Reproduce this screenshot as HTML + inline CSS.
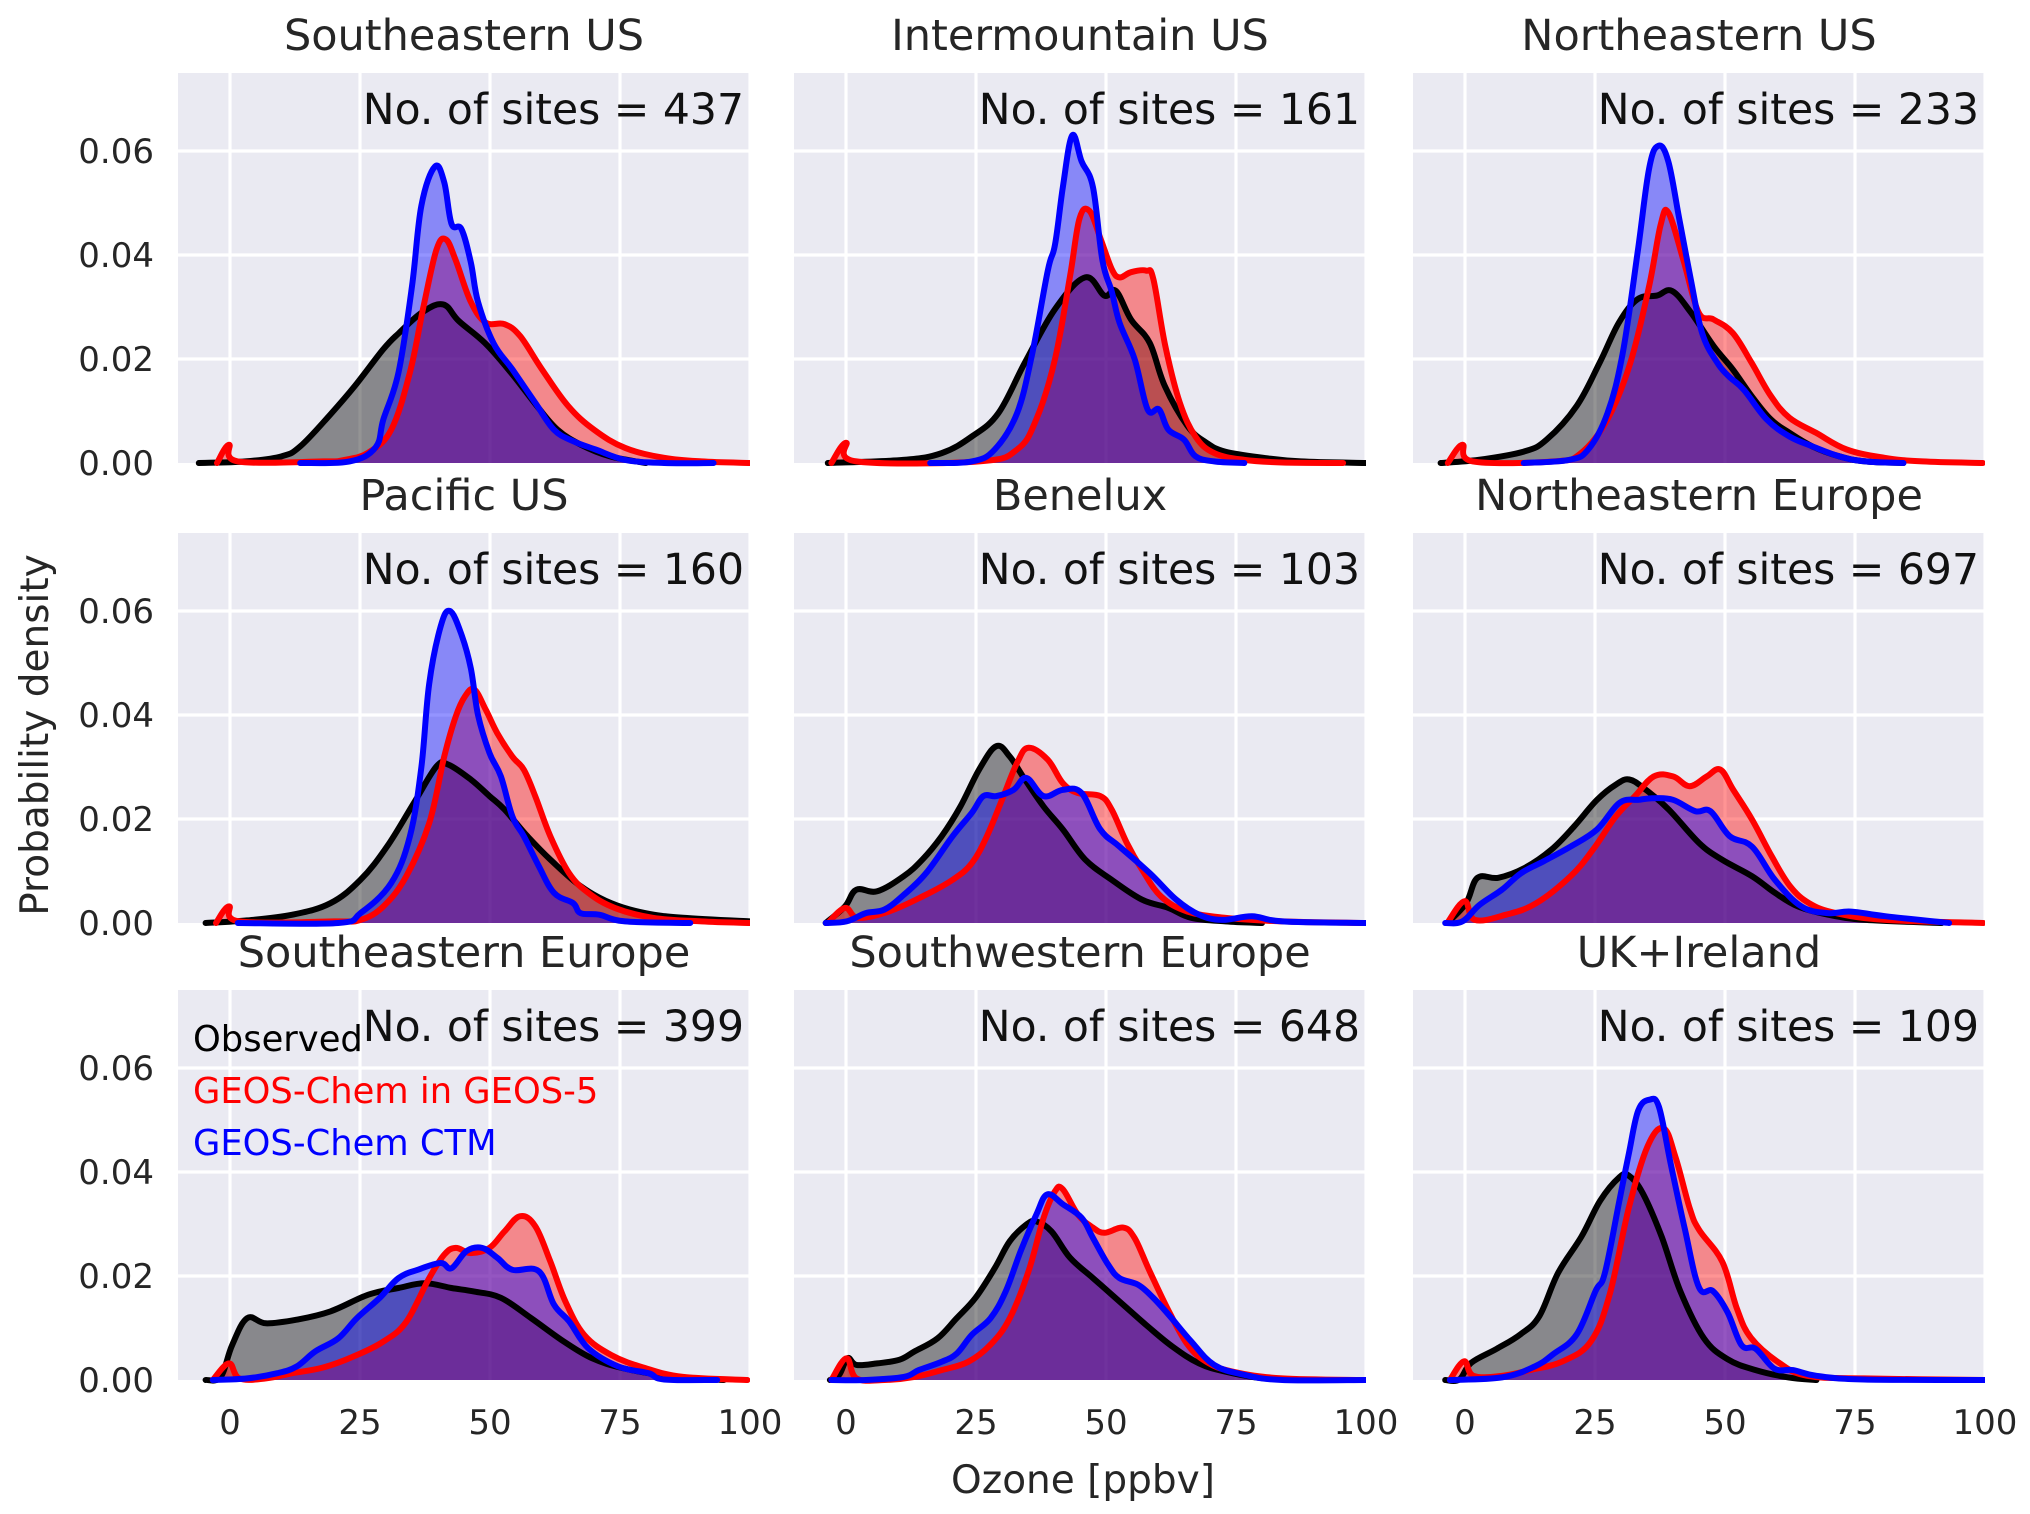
<!DOCTYPE html>
<html><head><meta charset="utf-8">
<style>
html,body{margin:0;padding:0;background:#fff;}
svg{display:block;font-family:"DejaVu Sans","Liberation Sans",sans-serif;}
</style></head>
<body>
<svg id="fig" width="2030" height="1514" viewBox="0 0 2030 1514" xmlns="http://www.w3.org/2000/svg"></svg>
<script>
// ---- data ----
const panelTitles = ["Southeastern US","Intermountain US","Northeastern US","Pacific US","Benelux","Northeastern Europe","Southeastern Europe","Southwestern Europe","UK+Ireland"];
const siteCounts = [437,161,233,160,103,697,399,648,109];
const xTicks = [0,25,50,75,100];
const yTicks = [0,0.02,0.04,0.06];
const yTickLabels = ["0.00","0.02","0.04","0.06"];

const p1ObsX=[-6,3,10,13.5,19,24,29.5,32.5,37,41,44,49,54,59,63,67.5,73,80];
const p1ObsY=[0,0.0003,0.0013,0.0032,0.009,0.0148,0.0219,0.025,0.029,0.0305,0.0273,0.0231,0.0174,0.011,0.0064,0.0035,0.0013,0];
const p1RedX=[-2.5,-0.2,1.5,18,22,26.6,31,34.6,37.2,39.7,41.5,43.4,46.3,49.2,52.8,55.8,60,65,70,76,83.5,90.7,100];
const p1RedY=[0,0.0035,0.0003,0.0003,0.0006,0.002,0.0064,0.0174,0.030,0.041,0.043,0.039,0.031,0.027,0.0267,0.0244,0.018,0.011,0.0064,0.0029,0.001,0.0003,0];
const p1BluX=[13.5,23,28,29.5,32.4,35,36.8,39.4,41.2,42.6,44.5,46.3,47.7,50.7,54.3,58.7,62.3,66,70.3,76,83.5,93];
const p1BluY=[0,0.0003,0.003,0.0084,0.0174,0.034,0.0495,0.057,0.054,0.046,0.045,0.0386,0.031,0.023,0.018,0.0116,0.0064,0.0042,0.0026,0.0006,0,0];

const p2ObsX=[-3.5,11,18.4,24.2,29.3,34.4,40.2,46,49.7,51.9,54.8,58.4,61.3,65.7,69.3,72.9,80.3,87.5,100];
const p2ObsY=[0,0.0006,0.0019,0.0051,0.0096,0.0193,0.0296,0.0357,0.0322,0.0331,0.0276,0.0231,0.0148,0.0071,0.0039,0.0022,0.001,0.0003,0];
const p2RedX=[-2.8,0,2,25.6,32.9,36.6,40.2,43.1,44.9,46.8,49,51.1,52.6,54.8,57.7,59.1,61.4,64.2,67.2,70.8,76.6,83.9,95.6];
const p2RedY=[0,0.0039,0.0003,0.0003,0.0026,0.0084,0.02,0.036,0.047,0.0485,0.043,0.0373,0.0357,0.0367,0.037,0.0354,0.0225,0.0116,0.0051,0.0019,0.0006,0.0001,0];
const p2BluX=[16.2,24.2,28.6,32.9,35.8,38.8,40.2,41.7,43.5,45.3,47.5,49.3,51.1,52.6,55.5,58,60.2,62,65,67.2,70.8,76.6];
const p2BluY=[0,0.0003,0.0026,0.0096,0.021,0.037,0.042,0.053,0.063,0.058,0.053,0.039,0.033,0.027,0.020,0.0103,0.0103,0.0064,0.0045,0.0013,0.0003,0];

const p3ObsX=[-4.7,2.6,11.3,15.7,21.5,25.9,29.6,33.2,36.9,39.8,43.4,47.8,51.5,55.1,58.8,62.4,66.8,71.9,77,84.3];
const p3ObsY=[0,0.0006,0.0022,0.0045,0.011,0.0193,0.027,0.0315,0.0322,0.0331,0.029,0.0225,0.018,0.0129,0.0084,0.0058,0.0032,0.0013,0.0003,0];
const p3RedX=[-3.3,-0.5,1.5,17.2,22.3,27.4,31.8,35.4,37.6,39.1,42,44.9,47.8,51.5,55.1,58.8,62.4,67.5,73.4,80.7,88,99.6];
const p3RedY=[0,0.0035,0.0003,0.0003,0.0019,0.0084,0.0193,0.034,0.0457,0.0482,0.039,0.029,0.0276,0.025,0.0193,0.0129,0.0087,0.0058,0.0026,0.001,0.0003,0];
const p3BluX=[11.3,20,23.7,27.4,30.3,33.2,35.4,37.2,39.1,41.2,43.4,45.6,48.5,50.7,53.6,58,62.4,66.8,71.9,77,84.3];
const p3BluY=[0,0.0006,0.0026,0.0096,0.021,0.0405,0.0566,0.061,0.058,0.047,0.0354,0.025,0.0193,0.0167,0.0141,0.0084,0.0051,0.0032,0.0013,0.0003,0];

const p4ObsX=[-4.7,3.3,12,19.3,25.1,30.2,35.3,39.7,41.9,46.3,49.9,52.8,57.2,61.6,67.4,73.3,79.8,87.1,100];
const p4ObsY=[0,0.0005,0.0016,0.0038,0.0083,0.0147,0.023,0.0301,0.0305,0.0276,0.0244,0.0218,0.0167,0.0122,0.0071,0.0038,0.0019,0.001,0.0003];
const p4RedX=[-2.7,-0.2,1.8,20,25.1,29.5,33.9,38.3,41.2,43.4,45.2,47,49.2,51.4,54.3,56.5,58.7,61.6,65.2,68.9,74,81.3,90.7,100];
const p4RedY=[0,0.0032,0.0003,0.0003,0.0006,0.0032,0.009,0.0192,0.032,0.0397,0.0436,0.0449,0.041,0.0365,0.032,0.0295,0.0244,0.0167,0.0096,0.0058,0.0029,0.001,0.0003,0];
const p4BluX=[1.5,20.8,25.1,31,34.6,36.8,38.3,40.5,42.3,44.5,46.3,47.7,49.9,52.1,54.3,56.5,59.4,62.3,66,67.4,71,76,88.5];
const p4BluY=[0,0,0.0019,0.0077,0.0167,0.030,0.046,0.057,0.060,0.0555,0.049,0.040,0.0327,0.0282,0.0205,0.0167,0.0109,0.0058,0.0038,0.0019,0.0016,0.0003,0];

const p5ObsX=[-3.9,-0.2,2,6,11.1,14.7,18.4,22,25.6,28.9,31.5,34.4,38,41.7,46,51.1,56.9,62,66.4,73,80];
const p5ObsY=[0,0.0032,0.0064,0.0061,0.009,0.0122,0.0167,0.0224,0.0295,0.034,0.032,0.0276,0.0224,0.018,0.0122,0.0083,0.0045,0.0029,0.001,0.0003,0];
const p5RedX=[-3.5,-0.2,2.3,8.2,14.7,20.5,24.2,27.1,30,32.9,35.1,38.8,41.7,44.6,48.9,51.1,54,56.9,60.6,65.7,73,83.9,99.9];
const p5RedY=[0,0.0029,0.001,0.0022,0.0051,0.0083,0.0115,0.0167,0.0237,0.0308,0.0337,0.0314,0.0269,0.025,0.0244,0.0218,0.0154,0.0103,0.0051,0.0022,0.001,0.0003,0];
const p5BluX=[-3.9,0.1,3.8,7.4,11.1,15.4,20.5,24.2,26.4,28.9,32.2,34.7,38,41.7,45.3,48.9,52.6,58.4,63.5,67.9,72.3,78.1,83.9,99.9];
const p5BluY=[0,0.0003,0.0019,0.0026,0.0054,0.0096,0.0167,0.0212,0.0244,0.0244,0.0256,0.0279,0.0244,0.0256,0.025,0.018,0.0147,0.0096,0.0045,0.0016,0.0006,0.0013,0.0003,0];

const p6ObsX=[-3.4,0.2,2.4,6.4,11.5,16.6,21,25.4,29,31.6,34.8,39.2,45,49.4,55.2,59.6,64,69.8,77.1,91.7];
const p6ObsY=[0,0.0038,0.0087,0.0087,0.0106,0.0141,0.0186,0.0237,0.0266,0.0276,0.0256,0.0218,0.0154,0.0122,0.009,0.0058,0.0032,0.0016,0.0006,0];
const p6RedX=[-3.4,-0.1,1.9,7.9,13.7,20.3,24.6,29,32.7,36.3,40,43.2,46.5,49.1,51.6,55.2,59,62.5,66.2,71.3,80.8,99.7];
const p6RedY=[0,0.0042,0.0006,0.0016,0.0038,0.009,0.0141,0.0205,0.0244,0.0282,0.0282,0.0263,0.0282,0.0295,0.0256,0.0199,0.0128,0.0071,0.0038,0.0019,0.0006,0];
const p6BluX=[-3.8,-0.5,2.8,7.1,10.8,15.2,20.3,25.4,29.7,33.4,36.3,40,44.3,47.2,50.9,55.2,59.6,64.7,69.8,74.2,80.8,93.1];
const p6BluY=[0,0.0003,0.0035,0.0064,0.0096,0.0119,0.0147,0.018,0.0231,0.0237,0.024,0.0237,0.0215,0.0215,0.0167,0.0147,0.0083,0.0032,0.0019,0.0022,0.0013,0];

const p7ObsX=[-4.7,-1.8,0.4,3.3,6.9,12.8,19.3,26.6,32.4,37.5,42.6,47,52.1,57.9,64.2,69.6,75.4,82.7,90,95];
const p7ObsY=[0,0.0006,0.0067,0.0119,0.0109,0.0116,0.0132,0.0164,0.0177,0.0186,0.0177,0.017,0.0158,0.0119,0.0074,0.0042,0.0023,0.001,0.0003,0];
const p7RedX=[-3.3,-0.2,1.8,6.9,12,17.9,23.7,29.5,33.9,38.3,41.2,43.4,46.3,49.9,52.8,55.8,58.7,61.6,64.5,68.1,73.3,79.8,87.1,99.5];
const p7RedY=[0,0.0032,0.0003,0.0003,0.0013,0.0024,0.0045,0.0074,0.0112,0.0196,0.0241,0.0254,0.0244,0.0254,0.0286,0.0315,0.0296,0.0228,0.0151,0.0087,0.0048,0.0023,0.0006,0];
const p7BluX=[-3.3,3.3,9.1,12.8,16.4,20.8,24.4,28.8,32.4,36.1,40.5,42.6,45.5,48.5,51.4,54.3,59.4,62.3,65.2,68.9,74.7,80.5,83.5,93.7];
const p7BluY=[0,0.0003,0.0013,0.0026,0.0055,0.008,0.0119,0.0158,0.0196,0.0212,0.0225,0.0215,0.0248,0.0254,0.0235,0.0212,0.0209,0.0145,0.0113,0.0061,0.0026,0.0013,0.0001,0];

const p8ObsX=[-3.1,-1.3,0.3,2,6,10.3,13.2,17.6,21.3,24.9,28.6,31.5,34.7,36.6,39.5,43.1,47.5,52.6,57.7,62.8,67.9,73,80.3,89.7];
const p8ObsY=[0,0.001,0.0042,0.0029,0.0032,0.0039,0.0055,0.008,0.0119,0.0158,0.0215,0.0267,0.0299,0.0305,0.0286,0.0235,0.0196,0.0151,0.0106,0.0064,0.0032,0.0016,0.0003,0];
const p8RedX=[-2.8,0.1,2,7.4,13.2,18.4,23.5,27.8,31.5,35.1,38,40.2,41.7,44.6,47.5,49.7,53.3,55.5,58.4,62.1,65.7,69.3,74.4,83.9,99.9];
const p8RedY=[0,0.0042,0.0003,0,0.0006,0.0019,0.0035,0.0068,0.0119,0.0209,0.0312,0.0363,0.0367,0.0318,0.0293,0.0283,0.0293,0.0273,0.0209,0.0132,0.0068,0.0035,0.0016,0.0003,0];
const p8BluX=[-2.8,3.8,11.1,14,18.4,21.3,24.2,27.8,30.7,33.6,36.6,38.7,41.7,45.3,47.5,50.4,52.6,56.2,59.1,62.1,66.4,70.8,76.6,83.9,99.9];
const p8BluY=[0,0,0.0006,0.0019,0.0035,0.0051,0.0087,0.0119,0.017,0.0248,0.0318,0.0357,0.0338,0.0312,0.0273,0.0222,0.0196,0.0183,0.0158,0.0125,0.0074,0.0029,0.001,0,0];

const p9ObsX=[-3.8,-1.1,1.2,6.1,10.7,14.3,17.9,22.4,26,29.7,31.5,34.2,37.8,41.4,45.9,50.5,55.9,62.2,67.6];
const p9ObsY=[0,0.0001,0.0033,0.006,0.0088,0.0123,0.0206,0.0276,0.0345,0.039,0.0393,0.0359,0.0276,0.0171,0.0081,0.004,0.0019,0.0005,0];
const p9RedX=[-2.9,-0.2,1.6,7.1,12.5,18.8,24.2,27.8,31.5,35.1,38.2,40.5,43.2,45,49.5,52.3,55,60.4,65.8,76.7,100];
const p9RedY=[0,0.0036,0.0008,0.0008,0.0019,0.0036,0.0074,0.0164,0.0331,0.0449,0.0484,0.0428,0.0331,0.0289,0.0227,0.0137,0.0081,0.0033,0.0008,0.0003,0];
const p9BluX=[-2.9,7.1,13.4,17,21.5,25.1,26.9,29.7,31.5,33.3,35.5,37.3,39.6,42.3,45,47.7,50.5,53.2,55.9,59.5,63.1,67.6,76.7,100];
const p9BluY=[0,0.0005,0.0026,0.005,0.0088,0.0171,0.0206,0.0345,0.0435,0.0518,0.0539,0.0525,0.0414,0.0289,0.0178,0.0171,0.013,0.0067,0.006,0.0022,0.0019,0.0008,0.0001,0];

const obsXs=[p1ObsX,p2ObsX,p3ObsX,p4ObsX,p5ObsX,p6ObsX,p7ObsX,p8ObsX,p9ObsX];
const obsYs=[p1ObsY,p2ObsY,p3ObsY,p4ObsY,p5ObsY,p6ObsY,p7ObsY,p8ObsY,p9ObsY];
const redXs=[p1RedX,p2RedX,p3RedX,p4RedX,p5RedX,p6RedX,p7RedX,p8RedX,p9RedX];
const redYs=[p1RedY,p2RedY,p3RedY,p4RedY,p5RedY,p6RedY,p7RedY,p8RedY,p9RedY];
const bluXs=[p1BluX,p2BluX,p3BluX,p4BluX,p5BluX,p6BluX,p7BluX,p8BluX,p9BluX];
const bluYs=[p1BluY,p2BluY,p3BluY,p4BluY,p5BluY,p6BluY,p7BluY,p8BluY,p9BluY];

// ---- layout ----
const NS="http://www.w3.org/2000/svg";
const svg=document.getElementById('fig');
const colLeft=[178,794,1413], rowBase=[463,923,1380];
const W=572, H=390, XMIN=-10, XMAX=100, YMAX=0.075;
function mk(tag,attrs,parent){const e=document.createElementNS(NS,tag);for(const k in attrs)e.setAttribute(k,attrs[k]);(parent||svg).appendChild(e);return e;}
function smoothPath(pts){
  let d="M"+pts[0][0].toFixed(1)+","+pts[0][1].toFixed(1);
  for(let i=0;i<pts.length-1;i++){
    const p0=pts[Math.max(0,i-1)],p1=pts[i],p2=pts[i+1],p3=pts[Math.min(pts.length-1,i+2)];
    const t=0.18;
    const c1=[p1[0]+(p2[0]-p0[0])*t,p1[1]+(p2[1]-p0[1])*t];
    const c2=[p2[0]-(p3[0]-p1[0])*t,p2[1]-(p3[1]-p1[1])*t];
    d+=" C"+c1[0].toFixed(1)+","+c1[1].toFixed(1)+" "+c2[0].toFixed(1)+","+c2[1].toFixed(1)+" "+p2[0].toFixed(1)+","+p2[1].toFixed(1);
  }
  return d;
}
const defs=mk('defs',{});
for(let p=0;p<9;p++){
  const r=Math.floor(p/3), c=p%3;
  const L=colLeft[c], B=rowBase[r], T=B-H;
  const sx=v=>L+(v-XMIN)/(XMAX-XMIN)*W;
  const sy=v=>B-v/YMAX*H;
  const g=mk('g',{});
  
  
  const cp=mk('clipPath',{id:'clip'+p},defs);
  mk('rect',{x:L,y:T,width:W,height:H+4},cp);
  const bg=mk('rect',{x:L,y:T,width:W,height:H,fill:'#eaeaf2'},g);
  
  
  for(const xv of xTicks){
    const gl=mk('line',{x1:sx(xv),x2:sx(xv),y1:T,y2:B,stroke:'#fff','stroke-width':3.2},g);
    
    
  }
  for(const yv of yTicks){
    if(yv===0)continue;
    const gl=mk('line',{x1:L,x2:L+W,y1:sy(yv),y2:sy(yv),stroke:'#fff','stroke-width':3.2},g);
    
    
  }
  const cg=mk('g',{'clip-path':'url(#clip'+p+')'},g);
  const series=[[obsXs[p],obsYs[p],'#000','observed'],[redXs[p],redYs[p],'#ff0000','geos-chem-in-geos5'],[bluXs[p],bluYs[p],'#0000ff','geos-chem-ctm']];
  for(const s of series){
    const pts=s[0].map((xv,i)=>[sx(xv),sy(s[1][i])]);
    const d=smoothPath(pts);
    const f=mk('path',{d:d+" L"+pts[pts.length-1][0].toFixed(1)+","+B+" L"+pts[0][0].toFixed(1)+","+B+" Z",fill:s[2],'fill-opacity':0.42,stroke:'none'},cg);
    
    
  }
  for(const s of series){
    const pts=s[0].map((xv,i)=>[sx(xv),sy(s[1][i])]);
    const ln=mk('path',{d:smoothPath(pts),fill:'none',stroke:s[2],'stroke-width':6,'stroke-linejoin':'round','stroke-linecap':'round'},cg);
    
    
  }
  const tt=mk('text',{x:L+W/2,y:T-23,'text-anchor':'middle','font-size':43,fill:'#262626'},g);
  tt.textContent=panelTitles[p];
  
  
  const st=mk('text',{x:L+W-6,y:T+51,'text-anchor':'end','font-size':42.5,fill:'#111'},g);
  st.textContent='No. of sites = '+siteCounts[p];
  
  
  if(c===0){
    yTicks.forEach((yv,i)=>{
      const tl=mk('text',{x:L-24,y:sy(yv)+12,'text-anchor':'end','font-size':34,fill:'#262626'},g);
      tl.textContent=yTickLabels[i];
      
      
    });
  }
  if(r===2){
    xTicks.forEach(xv=>{
      const tl=mk('text',{x:sx(xv),y:B+54,'text-anchor':'middle','font-size':34,fill:'#262626'},g);
      tl.textContent=String(xv);
      
      
    });
  }
}
// legend in panel 7
const legItems=[["Observed","#000",1051],["GEOS-Chem in GEOS-5","#ff0000",1103],["GEOS-Chem CTM","#0000ff",1155]];
for(const it of legItems){
  const t=mk('text',{x:193,y:it[2],'font-size':35.3,fill:it[1]});
  t.textContent=it[0];
  
  
}
const xl=mk('text',{x:1083,y:1493,'text-anchor':'middle','font-size':39,fill:'#262626'});
xl.textContent='Ozone [ppbv]';


const yl=mk('text',{x:0,y:0,'text-anchor':'middle','font-size':39,fill:'#262626',transform:'translate(48,735) rotate(-90)'});
yl.textContent='Probability density';


</script>
</body></html>
